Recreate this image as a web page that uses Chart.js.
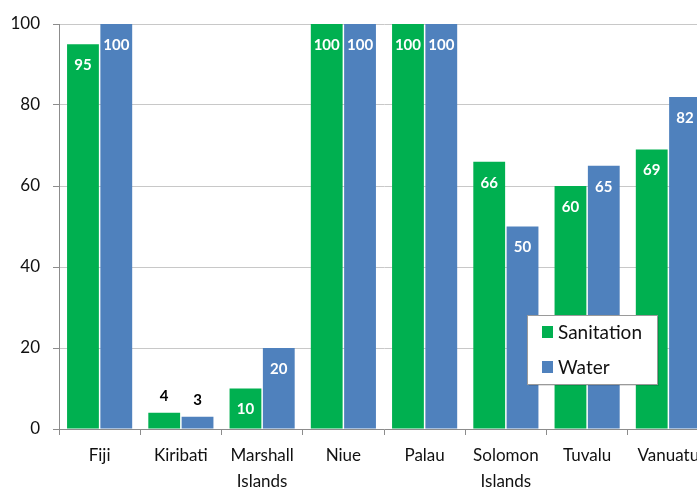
<!DOCTYPE html>
<html><head><meta charset="utf-8">
<script src="https://cdn.jsdelivr.net/npm/chart.js@4"></script>
<style>html,body{margin:0;padding:0;overflow:hidden;background:#fff}#wrap{width:712px;height:490px}</style>
</head><body><div id="wrap"><canvas id="c" width="712" height="490"></canvas></div>
<script>
const categories = [["Fiji"],["Kiribati"],["Marshall","Islands"],["Niue"],["Palau"],["Solomon","Islands"],["Tuvalu"],["Vanuatu"]];
const sanitation = [95, 4, 10, 100, 100, 66, 60, 69];
const water = [100, 3, 20, 100, 100, 50, 65, 82];
const yTicks = [0, 20, 40, 60, 80, 100];
const FONT = "Lato, 'Open Sans', sans-serif";

const labelPlugin = {
  id: 'barLabels',
  afterDatasetsDraw(chart) {
    const ctx = chart.ctx;
    ctx.save();
    ctx.font = "bold 15px " + FONT;
    ctx.textAlign = 'center';
    ctx.textBaseline = 'middle';
    chart.data.datasets.forEach((ds, di) => {
      const meta = chart.getDatasetMeta(di);
      meta.data.forEach((bar, i) => {
        const v = ds.data[i];
        if (bar.x > chart.width) return;
        if (v < 8) {
          ctx.fillStyle = '#000';
          ctx.fillText(String(v), bar.x, bar.y - 17);
        } else {
          ctx.fillStyle = '#fff';
          ctx.fillText(String(v), bar.x, bar.y + 21);
        }
      });
    });
    ctx.restore();
  }
};

const legendPlugin = {
  id: 'boxLegend',
  afterDraw(chart) {
    const ctx = chart.ctx;
    const x = 527, y = 315, w = 130, h = 69;
    ctx.save();
    ctx.fillStyle = 'rgba(0,0,0,0.12)';
    ctx.fillRect(x + 2, y + 2, w, h);
    ctx.fillStyle = '#fff';
    ctx.fillRect(x, y, w, h);
    ctx.strokeStyle = '#9a9a9a';
    ctx.lineWidth = 1;
    ctx.strokeRect(x + 0.5, y + 0.5, w, h);
    ctx.font = "19px " + FONT;
    ctx.textBaseline = 'middle';
    chart.data.datasets.forEach((ds, i) => {
      const cy = y + 17 + i * 35;
      ctx.fillStyle = ds.backgroundColor;
      ctx.fillRect(x + 15, cy - 6, 11, 12);
      ctx.fillStyle = '#111';
      ctx.fillText(ds.label, x + 31, cy + 1);
    });
    ctx.restore();
  }
};

new Chart(document.getElementById('c'), {
  type: 'bar',
  data: {
    labels: categories,
    datasets: [
      { label: 'Sanitation', data: sanitation, backgroundColor: '#00B050', categoryPercentage: 0.82, barPercentage: 0.955 },
      { label: 'Water', data: water, backgroundColor: '#4F81BD', categoryPercentage: 0.82, barPercentage: 0.955 }
    ]
  },
  options: {
    responsive: false,
    animation: false,
    layout: { padding: { top: 24, right: 3, left: 0, bottom: 0 } },
    plugins: { legend: { display: false }, tooltip: { enabled: false } },
    scales: {
      x: {
        offset: true,
        grid: { display: true, offset: true, drawOnChartArea: false, drawTicks: true, tickLength: 6, color: '#8c8c8c' },
        border: { display: true, color: '#8c8c8c' },
        ticks: { font: { family: FONT, size: 17, lineHeight: 1.5 }, color: '#111', padding: 8, maxRotation: 0, autoSkip: false },
        afterFit(s) { s.height = 61; }
      },
      y: {
        min: 0, max: 100,
        afterBuildTicks(s) { s.ticks = yTicks.map(v => ({ value: v })); },
        grid: { color: '#c8c8c8', tickLength: 6, tickColor: '#8c8c8c' },
        border: { display: true, color: '#8c8c8c' },
        ticks: { font: { family: FONT, size: 17 }, color: '#111', padding: 13 },
        afterFit(s) { s.width = 59; }
      }
    }
  },
  plugins: [labelPlugin, legendPlugin]
});
</script>
</body></html>
